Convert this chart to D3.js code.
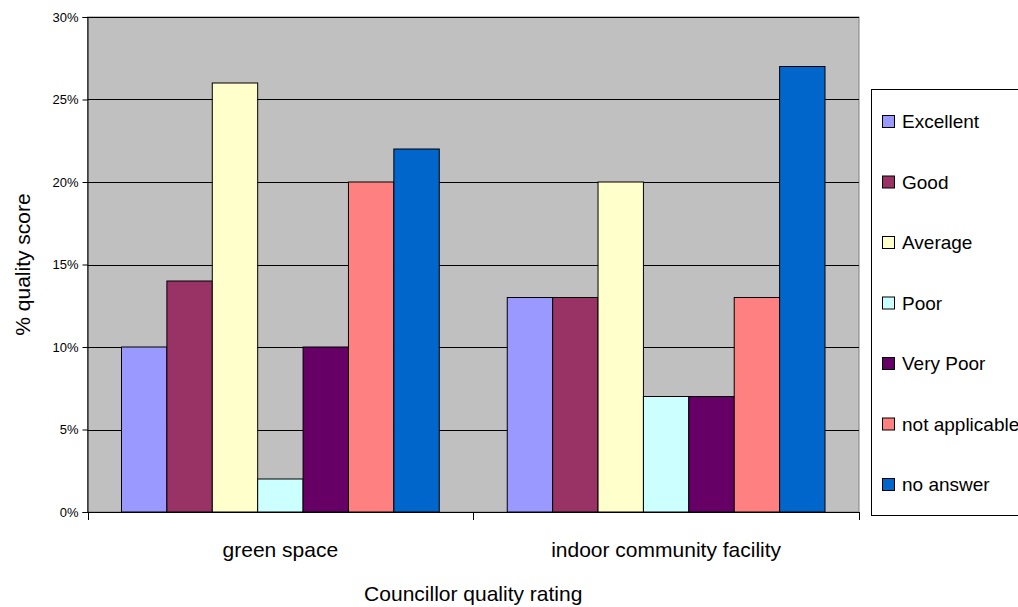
<!DOCTYPE html>
<html>
<head>
<meta charset="utf-8">
<script src="https://cdn.jsdelivr.net/npm/d3@7"></script>
<style>
  body { margin: 0; background: #fff; }
  text { font-family: "Liberation Sans", Arial, sans-serif; }
</style>
</head>
<body>
<script>
var categories = ["green space", "indoor community facility"];
var series = ["Excellent", "Good", "Average", "Poor", "Very Poor", "not applicable", "no answer"];
var colours = ["#9999FF", "#993366", "#FFFFCC", "#CCFFFF", "#660066", "#FF8080", "#0066CC"];
var greenSpace = [10, 14, 26, 2, 10, 20, 22];
var indoorFacility = [13, 13, 20, 7, 7, 13, 27];
var yTicks = [0, 5, 10, 15, 20, 25, 30];

var values = [greenSpace, indoorFacility];

var width = 1018, height = 607;
var plotLeft = 87.5, plotRight = 859, plotTop = 17, plotBottom = 512;

var svg = d3.select("body").append("svg")
  .attr("width", width)
  .attr("height", height);

var x0 = d3.scaleBand().domain(categories).range([plotLeft, plotRight]).paddingInner(0).paddingOuter(0);
var x1 = d3.scaleBand().domain(series).range([34, x0.bandwidth() - 34]);
var y = d3.scaleLinear().domain([0, 30]).range([plotBottom, plotTop]);

// plot background
svg.append("rect")
  .attr("x", plotLeft).attr("y", plotTop)
  .attr("width", plotRight - plotLeft).attr("height", plotBottom - plotTop)
  .attr("fill", "#C0C0C0")
  .attr("stroke", "#808080")
  .attr("stroke-width", 1);

// gridlines
svg.selectAll(".grid")
  .data(yTicks.slice(1))
  .enter().append("line")
  .attr("x1", plotLeft).attr("x2", plotRight)
  .attr("y1", function(d) { return Math.round(y(d)) + 0.5; })
  .attr("y2", function(d) { return Math.round(y(d)) + 0.5; })
  .attr("stroke", "#000")
  .attr("stroke-width", 1);

// bars
var groups = svg.selectAll(".grp")
  .data(categories)
  .enter().append("g")
  .attr("transform", function(d) { return "translate(" + x0(d) + ",0)"; });

groups.selectAll("rect")
  .data(function(d, i) {
    return series.map(function(s, j) { return { s: s, v: values[i][j], c: colours[j] }; });
  })
  .enter().append("rect")
  .attr("x", function(d) { return x1(d.s); })
  .attr("width", x1.bandwidth())
  .attr("y", function(d) { return y(d.v); })
  .attr("height", function(d) { return plotBottom - y(d.v); })
  .attr("fill", function(d) { return d.c; })
  .attr("stroke", "#000")
  .attr("stroke-width", 1);

// y axis
var yAxis = d3.axisLeft(y).tickValues(yTicks).tickSize(5).tickPadding(4)
  .tickFormat(function(d) { return d + "%"; });
var ya = svg.append("g")
  .attr("transform", "translate(" + plotLeft + ",0)")
  .call(yAxis);
ya.select(".domain").attr("stroke", "#000");
ya.selectAll("text").attr("font-size", 13).attr("fill", "#000")
  .style("font-family", "'Liberation Sans', Arial, sans-serif");

// x axis
svg.append("line")
  .attr("x1", plotLeft).attr("x2", plotRight)
  .attr("y1", plotBottom + 0.5).attr("y2", plotBottom + 0.5)
  .attr("stroke", "#000");
var xTicks = [plotLeft, x0(categories[1]), plotRight];
svg.selectAll(".xt")
  .data(xTicks)
  .enter().append("line")
  .attr("x1", function(d) { return Math.round(d) + 0.5; })
  .attr("x2", function(d) { return Math.round(d) + 0.5; })
  .attr("y1", plotBottom).attr("y2", plotBottom + 8)
  .attr("stroke", "#000");

svg.selectAll(".cat")
  .data(categories)
  .enter().append("text")
  .attr("x", function(d) { return x0(d) + x0.bandwidth() / 2; })
  .attr("y", 557)
  .attr("text-anchor", "middle")
  .attr("font-size", 21)
  .text(function(d) { return d; });

svg.append("text")
  .attr("x", (plotLeft + plotRight) / 2)
  .attr("y", 601)
  .attr("text-anchor", "middle")
  .attr("font-size", 21)
  .text("Councillor quality rating");

svg.append("text")
  .attr("transform", "translate(30," + ((plotTop + plotBottom) / 2) + ") rotate(-90)")
  .attr("text-anchor", "middle")
  .attr("font-size", 21)
  .text("% quality score");

// legend
svg.append("rect")
  .attr("x", 871.5).attr("y", 89.5)
  .attr("width", 160).attr("height", 426)
  .attr("fill", "#fff")
  .attr("stroke", "#000");

var leg = svg.selectAll(".leg")
  .data(series)
  .enter().append("g")
  .attr("transform", function(d, i) { return "translate(882," + (121 + i * 60.5) + ")"; });

leg.append("rect")
  .attr("x", 0.5).attr("y", -5.5)
  .attr("width", 12).attr("height", 12)
  .attr("fill", function(d, i) { return colours[i]; })
  .attr("stroke", "#000");

leg.append("text")
  .attr("x", 20)
  .attr("y", 7)
  .attr("font-size", 19)
  .text(function(d) { return d; });
</script>
</body>
</html>
